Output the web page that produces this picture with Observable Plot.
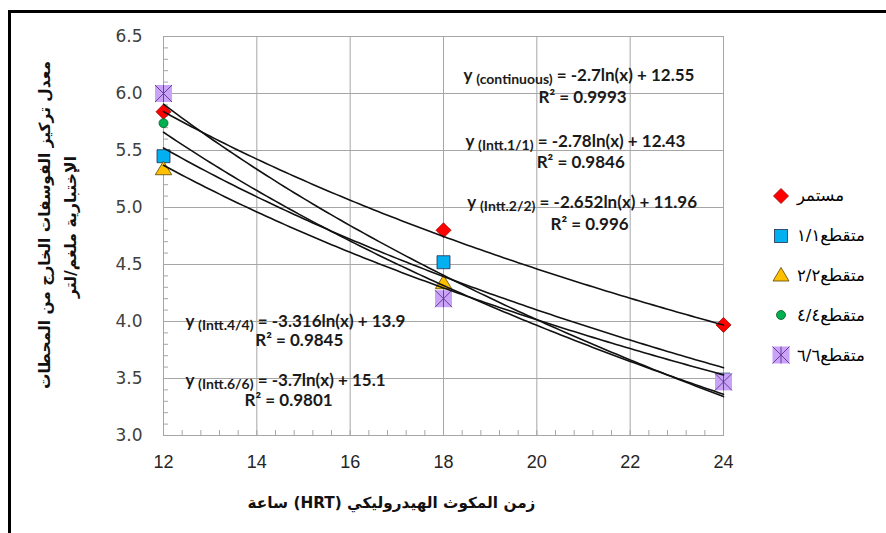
<!DOCTYPE html>
<html><head><meta charset="utf-8">
<script src="https://cdn.jsdelivr.net/npm/d3@7"></script>
<script src="https://cdn.jsdelivr.net/npm/@observablehq/plot@0.6"></script>
<style>
html,body{margin:0;padding:0;background:#fff;overflow:hidden;width:886px;height:533px;}
#wrap{position:relative;width:886px;height:533px;overflow:hidden;}
#wrap > svg{position:absolute;left:0;top:0;}
#frame{position:absolute;left:8px;top:10px;width:1000px;height:700px;border-left:3px solid #000;border-top:3px solid #000;pointer-events:none;}
#legend{position:absolute;left:770px;top:176px;font-family:"DejaVu Sans",sans-serif;font-size:16.5px;color:#000;}
#legend .row{display:flex;align-items:center;height:39.8px;}
#legend svg{width:22px;height:22px;margin-right:5px;flex:none;}
</style></head>
<body><div id="wrap"><div id="frame"></div><div id="legend"></div></div>
<script>
// ---- data ----
const hrt = [12, 18, 24];
const seriesNames = ["مستمر", "متقطع١/١", "متقطع٢/٢", "متقطع٤/٤", "متقطع٦/٦"];
const continuous = [5.84, 4.80, 3.97];
const intt11 = [5.45, 4.52, 3.49];
const intt22 = [5.34, 4.34, 3.47];
const intt44 = [5.74, 4.22, 3.45];
const intt66 = [6.00, 4.20, 3.47];
const trendSubs = ["continuous", "Intt.1/1", "Intt.2/2", "Intt.4/4", "Intt.6/6"];
const trendA = [-2.7, -2.78, -2.652, -3.316, -3.7];
const trendB = [12.55, 12.43, 11.96, 13.9, 15.1];
const trendR2 = ["0.9993", "0.9846", "0.996", "0.9845", "0.9801"];
const xTicks = [12, 14, 16, 18, 20, 22, 24];
const yTicks = [3.0, 3.5, 4.0, 4.5, 5.0, 5.5, 6.0, 6.5];
const xTitle = "زمن المكوث الهيدروليكي (HRT) ساعة";
const yTitle = ["معدل تركيز الفوسفات الخارج من المحطات", "الإختبارية ملغم/لتر"];

// ---- annotation layout (data coordinates) ----
const eqPos = [[18.43, 6.106], [18.47, 5.528], [18.51, 4.993], [12.47, 3.951], [12.47, 3.430]];
const r2Pos = [[20.98, 5.913], [20.94, 5.344], [21.13, 4.800], [14.91, 3.784], [14.68, 3.255]];

const allSeries = [continuous, intt11, intt22, intt44, intt66];
const points = allSeries.map((arr, s) => hrt.map((x, i) => ({s, x, y: arr[i]})));
const trend = allSeries.flatMap((_, s) =>
  d3.range(hrt[0], hrt[2] + 0.0001, 0.1).map(x => ({s, x, y: trendA[s] * Math.log(x) + trendB[s]})));
const eqLabels = trendSubs.map((sub, s) => ({x: eqPos[s][0], y: eqPos[s][1],
  text: `y (${sub}) = ${trendA[s]}ln(x) + ${trendB[s]}`}));
const r2Labels = trendR2.map((r, s) => ({x: r2Pos[s][0], y: r2Pos[s][1], text: `R² = ${r}`}));

// ---- custom symbols ----
const diamondSym = {draw(c, size){const s = Math.sqrt(size/Math.PI); c.moveTo(0,-s); c.lineTo(s,0); c.lineTo(0,s); c.lineTo(-s,0); c.closePath();}};
const squareSym = {draw(c, size){const s = Math.sqrt(size/Math.PI); c.rect(-s,-s,2*s,2*s);}};
const triSym = {draw(c, size){const s = Math.sqrt(size/Math.PI); c.moveTo(0,-s); c.lineTo(s*1.1,s*0.8); c.lineTo(-s*1.1,s*0.8); c.closePath();}};
const starSym = {draw(c, size){const s = Math.sqrt(size/Math.PI); c.moveTo(-s,-s); c.lineTo(s,s); c.moveTo(s,-s); c.lineTo(-s,s); c.moveTo(0,-s); c.lineTo(0,s);}};

const markerStyles = [
  {symbol: diamondSym, r: 7.5, fill: "#ff0000", stroke: "#9b0000"},
  {symbol: squareSym, r: 6.5, fill: "#00b0f0", stroke: "#1f3050"},
  {symbol: triSym, r: 7.5, fill: "#ffc000", stroke: "#5a4500"},
  {symbol: "circle", r: 4.5, fill: "#00b050", stroke: "#0a5a2a"},
];

const titleFont = "DejaVu Sans, sans-serif";
const marks = [
  Plot.gridX(xTicks, {stroke: "#a6a6a6", strokeOpacity: 1}),
  Plot.gridY(yTicks, {stroke: "#a6a6a6", strokeOpacity: 1}),
  Plot.frame({stroke: "#a6a6a6"}),
  Plot.axisX(d3.range(12, 24.001, 0.4), {tickSize: -5, tickFormat: () => "", label: null, stroke: "#a6a6a6"}),
  Plot.axisY(d3.range(3, 6.5001, 0.1), {tickSize: -5, tickFormat: () => "", label: null, stroke: "#a6a6a6"}),
  Plot.axisX(xTicks, {tickSize: 0, tickPadding: 20, fontSize: 18, fontFamily: "Liberation Sans, Arial, sans-serif", fill: "#262626", label: null}),
  Plot.axisY(yTicks, {tickSize: 0, tickPadding: 21, fontSize: 17, fontFamily: "DejaVu Sans, sans-serif", fill: "#404040", tickFormat: d3.format(".1f"), label: null}),
];
markerStyles.forEach((m, s) => {
  marks.push(Plot.dot(points[s], {x: "x", y: "y", symbol: m.symbol, r: m.r, fill: m.fill, stroke: m.stroke, strokeWidth: 0.8}));
});
marks.push(Plot.dot(points[4], {x: "x", y: "y", symbol: squareSym, r: 8.5, fill: "#c9a3f7", stroke: "none"}));
marks.push(Plot.dot(points[4], {x: "x", y: "y", symbol: starSym, r: 8.5, fill: "none", stroke: "#6a3d9a", strokeWidth: 1}));
marks.push(Plot.line(trend, {x: "x", y: "y", z: "s", stroke: "#111", strokeWidth: 1.6}));
marks.push(Plot.text(eqLabels, {x: "x", y: "y", text: "text", textAnchor: "start", lineAnchor: "bottom", fontSize: 17, fontWeight: "bold", fontFamily: "Lato, sans-serif", fill: "#1a1a1a"}));
marks.push(Plot.text(r2Labels, {x: "x", y: "y", text: "text", textAnchor: "middle", lineAnchor: "bottom", fontSize: 17, fontWeight: "bold", fontFamily: "Lato, sans-serif", fill: "#1a1a1a"}));
marks.push(Plot.text([xTitle], {text: d => d, frameAnchor: "bottom", dx: -52, dy: 68, lineAnchor: "middle", textAnchor: "middle", fontSize: 16, fontWeight: "bold", fontFamily: titleFont, fill: "#111"}));
marks.push(Plot.text([yTitle[0]], {text: d => d, frameAnchor: "left", rotate: -90, dx: -118, dy: -11, lineAnchor: "middle", textAnchor: "middle", fontSize: 15, fontWeight: "bold", fontFamily: titleFont, fill: "#111"}));
marks.push(Plot.text([yTitle[1]], {text: d => d, frameAnchor: "left", rotate: -90, dx: -93, dy: -9, lineAnchor: "middle", textAnchor: "middle", fontSize: 15, fontWeight: "bold", fontFamily: titleFont, fill: "#111"}));

const svg = Plot.plot({
  width: 886, height: 533,
  marginLeft: 163, marginRight: 163, marginTop: 36, marginBottom: 98,
  x: {domain: [12, 24]},
  y: {domain: [3, 6.5]},
  style: {background: "transparent", overflow: "visible"},
  marks
});
document.getElementById("wrap").insertBefore(svg, document.getElementById("frame"));

// post-process: subscripts in equations, RTL direction for Arabic text, fit title lengths
const titleTargets = new Map([[xTitle, 288], [yTitle[0], 328], [yTitle[1], 142]]);
d3.select(svg).selectAll("text").each(function () {
  const t = this.textContent;
  const m = /^y \((.*?)\) (=.*)$/.exec(t);
  if (m) {
    const sel = d3.select(this);
    sel.text(null);
    sel.append("tspan").text("y ");
    sel.append("tspan").attr("font-size", 14).attr("dy", 3).text(`(${m[1]})`);
    sel.append("tspan").attr("dy", -3).text(" " + m[2]);
  }
  if (/[\u0600-\u06FF]/.test(t)) {
    this.setAttribute("direction", "rtl");
    this.setAttribute("text-anchor", "middle");
    if (titleTargets.has(t)) {
      const fs = parseFloat(getComputedStyle(this).fontSize);
      const len = this.getComputedTextLength();
      if (len > 0) this.setAttribute("font-size", (fs * titleTargets.get(t) / len).toFixed(2));
    }
  }
});

// legend
const legendSymbols = [
  `<path d="M11,3.5L18.5,11L11,18.5L3.5,11Z" fill="#ff0000" stroke="#9b0000" stroke-width="0.8"/>`,
  `<rect x="4.5" y="4.5" width="13" height="13" fill="#00b0f0" stroke="#1f3050" stroke-width="0.8"/>`,
  `<path d="M11,3.5L19,17L3,17Z" fill="#ffc000" stroke="#5a4500" stroke-width="0.8"/>`,
  `<circle cx="11" cy="11" r="4.5" fill="#00b050" stroke="#0a5a2a" stroke-width="0.8"/>`,
  `<rect x="2.5" y="2.5" width="17" height="17" fill="#c9a3f7"/><path d="M2.5,2.5L19.5,19.5M19.5,2.5L2.5,19.5M11,2.5L11,19.5" stroke="#6a3d9a" stroke-width="1"/>`
];
const legend = d3.select("#legend");
seriesNames.forEach((name, i) => {
  const row = legend.append("div").attr("class", "row");
  row.append("svg").attr("viewBox", "0 0 22 22").html(legendSymbols[i]);
  row.append("span").attr("dir", "rtl").text(name);
});
</script>
</body></html>
